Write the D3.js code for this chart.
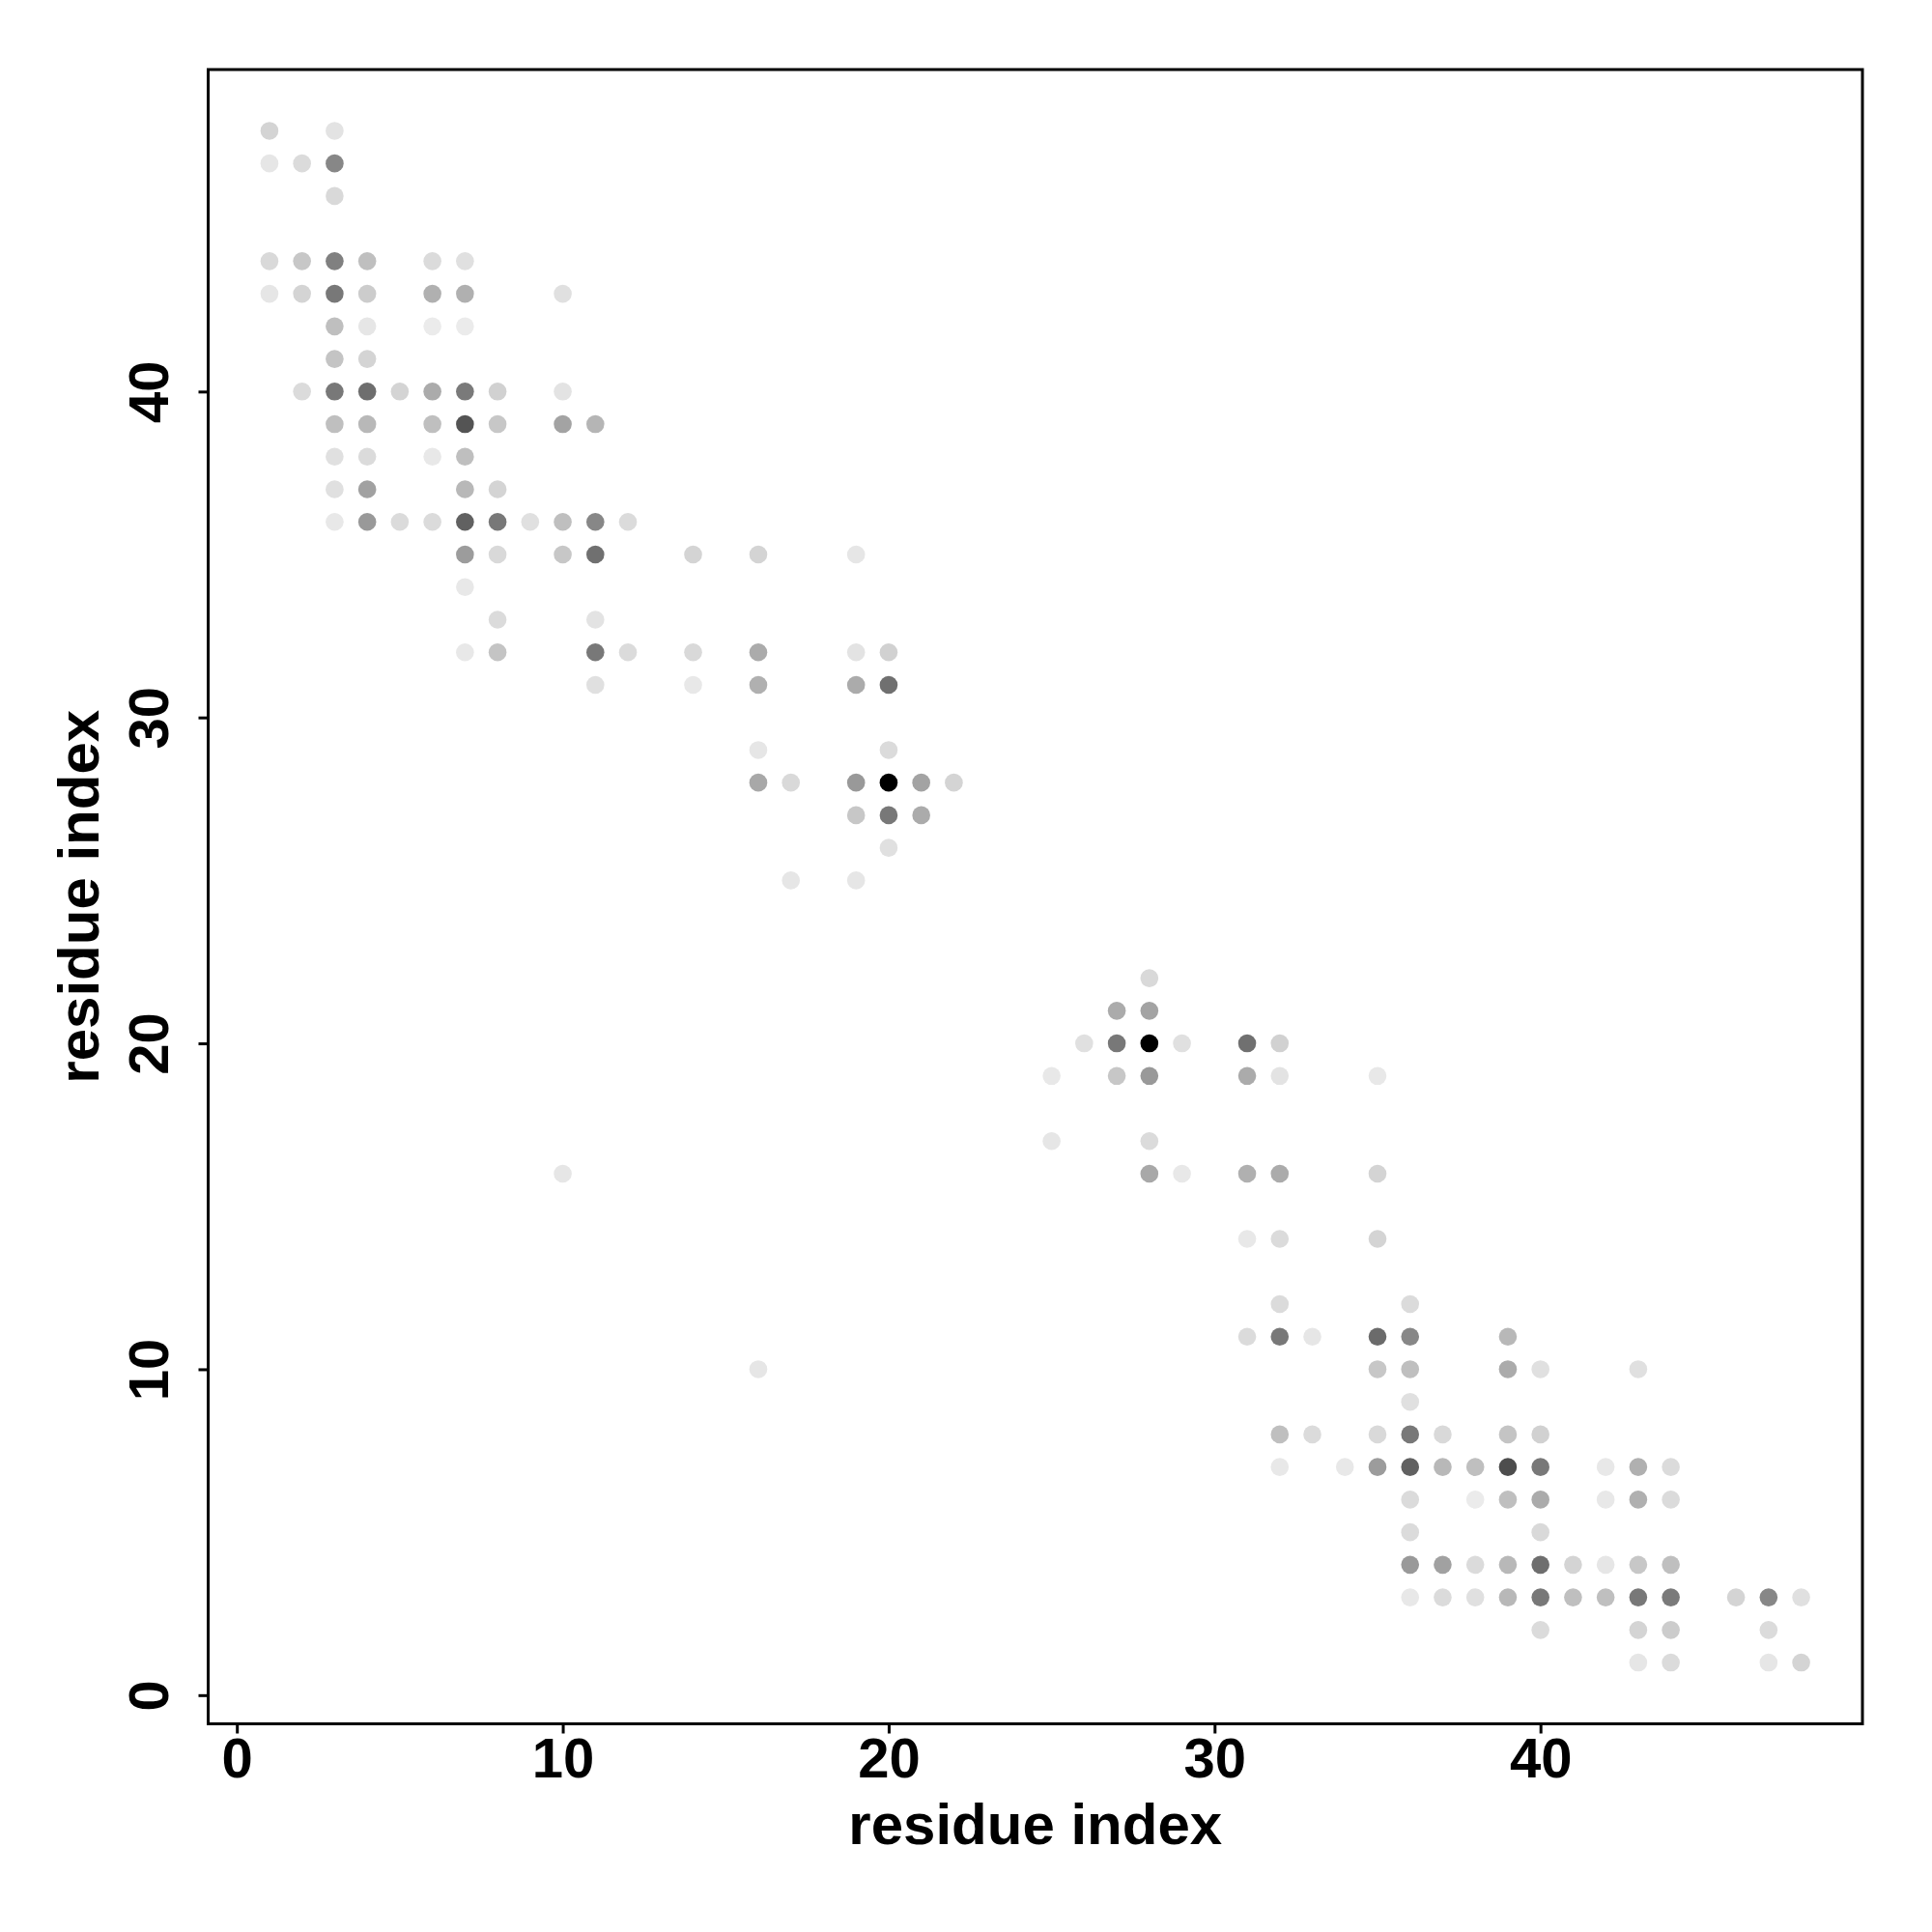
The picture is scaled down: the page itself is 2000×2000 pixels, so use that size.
<!DOCTYPE html>
<html>
<head>
<meta charset="utf-8">
<script src="https://cdn.jsdelivr.net/npm/d3@7"></script>
<style>
  html, body { margin: 0; padding: 0; background: #ffffff; }
  text { font-family: "Liberation Sans", Arial, Helvetica, sans-serif; font-weight: bold; }
</style>
</head>
<body>
<script>
// residue i (x), residue j (y), contact weight (0..1, darker = higher)
const resI = [
  1,3,
  1,2,3,
  3,
  1,2,3,4,6,7,
  1,2,3,4,6,7,10,
  3,4,6,7,
  3,4,
  2,3,4,5,6,7,8,10,
  3,4,6,7,8,10,11,
  3,4,6,7,
  3,4,7,8,
  3,4,5,6,7,8,9,10,11,12,
  7,8,10,11,14,16,19,
  7,
  8,11,
  7,8,11,12,14,16,19,20,
  11,14,16,19,20,
  16,20,
  16,17,19,20,21,22,
  19,20,21,
  20,
  17,19,
  28,
  27,28,
  26,27,28,29,31,32,
  25,27,28,31,32,35,
  25,28,
  10,28,29,31,32,35,
  31,32,35,
  32,36,
  31,32,33,35,36,39,
  16,35,36,39,40,43,
  36,
  32,33,35,36,37,39,40,
  32,34,35,36,37,38,39,40,42,43,44,
  36,38,39,40,42,43,44,
  36,40,
  36,37,38,39,40,41,42,43,44,
  36,37,38,39,40,41,42,43,44,46,47,48,
  40,43,44,47,
  43,44,47,48
];
const resJ = [
  48,48,
  47,47,47,
  46,
  44,44,44,44,44,44,
  43,43,43,43,43,43,43,
  42,42,42,42,
  41,41,
  40,40,40,40,40,40,40,40,
  39,39,39,39,39,39,39,
  38,38,38,38,
  37,37,37,37,
  36,36,36,36,36,36,36,36,36,36,
  35,35,35,35,35,35,35,
  34,
  33,33,
  32,32,32,32,32,32,32,32,
  31,31,31,31,31,
  29,29,
  28,28,28,28,28,28,
  27,27,27,
  26,
  25,25,
  22,
  21,21,
  20,20,20,20,20,20,
  19,19,19,19,19,19,
  17,17,
  16,16,16,16,16,16,
  14,14,14,
  12,12,
  11,11,11,11,11,11,
  10,10,10,10,10,10,
  9,
  8,8,8,8,8,8,8,
  7,7,7,7,7,7,7,7,7,7,7,
  6,6,6,6,6,6,6,
  5,5,
  4,4,4,4,4,4,4,4,4,
  3,3,3,3,3,3,3,3,3,3,3,3,
  2,2,2,2,
  1,1,1,1
];
const weight = [
  .17,.11,
  .10,.14,.47,
  .15,
  .15,.22,.50,.25,.14,.12,
  .10,.17,.53,.20,.31,.31,.12,
  .25,.10,.08,.08,
  .23,.17,
  .14,.53,.57,.17,.33,.52,.18,.11,
  .25,.28,.25,.67,.22,.36,.29,
  .12,.14,.09,.25,
  .12,.37,.28,.17,
  .09,.40,.14,.14,.62,.53,.12,.25,.47,.14,
  .39,.15,.22,.56,.17,.17,.10,
  .09,
  .14,.11,
  .09,.23,.53,.14,.15,.33,.11,.18,
  .12,.09,.31,.33,.56,
  .10,.14,
  .34,.15,.40,1.0,.36,.17,
  .22,.53,.33,
  .12,
  .10,.10,
  .15,
  .33,.36,
  .12,.53,1.0,.12,.56,.18,
  .09,.22,.40,.33,.11,.09,
  .10,.14,
  .10,.34,.09,.31,.33,.17,
  .09,.14,.17,
  .14,.14,
  .14,.53,.10,.58,.47,.28,
  .10,.22,.25,.33,.12,.12,
  .12,
  .25,.14,.15,.53,.15,.23,.18,
  .09,.09,.39,.62,.28,.25,.70,.53,.09,.31,.14,
  .14,.08,.25,.33,.09,.31,.14,
  .14,.15,
  .40,.37,.14,.28,.57,.17,.10,.22,.25,
  .09,.14,.12,.28,.53,.25,.25,.53,.52,.17,.47,.12,
  .14,.17,.20,.14,
  .10,.14,.10,.17
];
const xTicks = [0, 10, 20, 30, 40];
const yTicks = [0, 10, 20, 30, 40];
const xTitle = "residue index";
const yTitle = "residue index";

const W = 2000, H = 2000;
const plot = { left: 215.5, right: 1928, top: 72, bottom: 1784.5 };

const svg = d3.select("body").append("svg")
  .attr("width", W).attr("height", H)
  .style("background", "#ffffff");

const x = d3.scaleLinear().domain([-0.88, 49.88]).range([plot.left, plot.right]);
const y = d3.scaleLinear().domain([-0.88, 49.88]).range([plot.bottom, plot.top]);
const grey = d3.scaleLinear().domain([0, 1]).range(["#ffffff", "#000000"]);

const data = resI.map((d, i) => ({ i: d, j: resJ[i], w: weight[i] }));

// points
svg.append("g").selectAll("circle")
  .data(data)
  .join("circle")
  .attr("cx", d => x(d.i))
  .attr("cy", d => y(d.j))
  .attr("r", 9.3)
  .attr("fill", d => grey(d.w));

// x axis
const gx = svg.append("g")
  .attr("transform", `translate(0,${plot.bottom})`)
  .call(d3.axisBottom(x).tickValues(xTicks).tickSize(10).tickFormat(d3.format("d")));
gx.select(".domain").remove();
gx.selectAll(".tick line").attr("stroke", "#000").attr("stroke-width", 3);
gx.selectAll(".tick text")
  .attr("y", 55).attr("dy", null)
  .attr("fill", "#000")
  .style("font-size", "58px");

// y axis
const gy = svg.append("g")
  .attr("transform", `translate(${plot.left},0)`)
  .call(d3.axisLeft(y).tickValues(yTicks).tickSize(10).tickFormat(d3.format("d")));
gy.select(".domain").remove();
gy.selectAll(".tick line").attr("stroke", "#000").attr("stroke-width", 3);
gy.selectAll(".tick text")
  .attr("x", 0).attr("y", -42).attr("dy", null)
  .attr("transform", "rotate(-90)")
  .attr("text-anchor", "middle")
  .attr("fill", "#000")
  .style("font-size", "58px");

// box
svg.append("rect")
  .attr("x", plot.left).attr("y", plot.top)
  .attr("width", plot.right - plot.left)
  .attr("height", plot.bottom - plot.top)
  .attr("fill", "none").attr("stroke", "#000").attr("stroke-width", 3);

// titles
svg.append("text")
  .attr("x", (plot.left + plot.right) / 2).attr("y", 1909)
  .attr("text-anchor", "middle")
  .style("font-size", "60px")
  .text(xTitle);

svg.append("text")
  .attr("transform", `translate(102,${(plot.top + plot.bottom) / 2}) rotate(-90)`)
  .attr("text-anchor", "middle")
  .style("font-size", "60px")
  .text(yTitle);
</script>
</body>
</html>
